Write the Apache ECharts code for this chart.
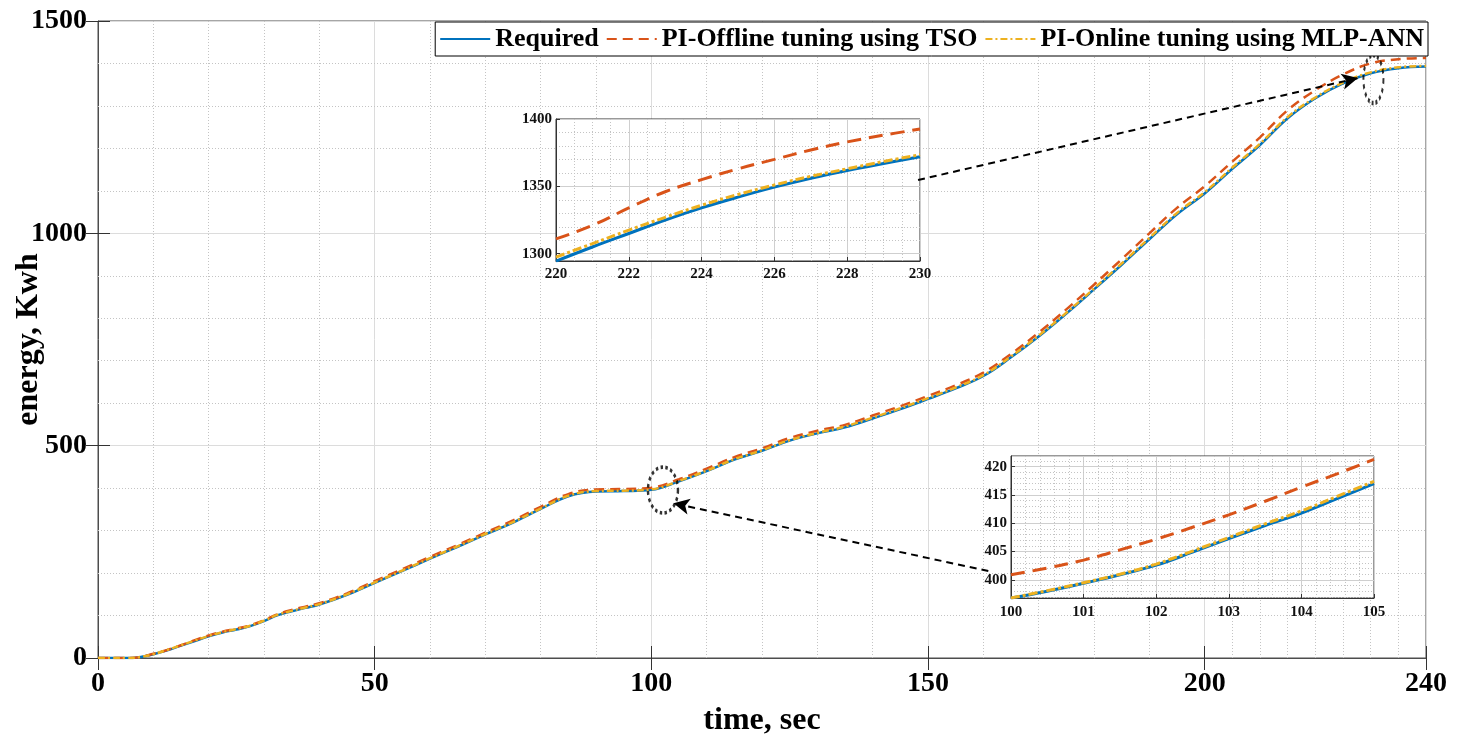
<!DOCTYPE html>
<html>
<head>
<meta charset="utf-8">
<script src="https://cdn.jsdelivr.net/npm/echarts@6/dist/echarts.min.js"></script>
<style>
html,body{margin:0;padding:0;background:#fff;}
#chart{width:1468px;height:736px;}
</style>
</head>
<body>
<div id="chart"></div>
<script>
// ---------- main plot data ----------
const time = [0,2.5,5,7.5,10,12.5,15,17.5,20,22.5,25,27.5,30,32.5,35,37.5,40,45,50,55,60,65,70,75,80,85,90,95,100,105,110,115,120,125,130,135,140,145,150,155,160,165,170,175,180,185,190,195,200,205,210,215,220,225,230,235,240];
const required = [0,0,0,2,9,18,29,40,51,60,67,75,87,101,110,118,126,149,177,205,234,262,291,319,351,381,392,393,396,416,440,467,488,512,529,543,564,586,610,635,664,708,757,811,868,926,986,1045,1094,1152,1208,1271,1318,1353,1377,1389,1393];
const tsoOffline = [0,0,0,2,10,19,30,42,53,62,69,77,89,103,113,121,129,152,181,209,238,266,295,324,356,386,397,398,401,421,446,473,494,518,535,549,571,593,617,642,672,716,766,821,879,939,1000,1060,1111,1169,1226,1290,1337,1374,1400,1410,1413];
const mlpOnline = [0,0,0,2,9,19,30,41,52,61,68,76,88,102,111,119,127,150,178,206,235,263,292,320,352,382,393,394,397,417,441,468,489,513,530,545,566,588,612,637,666,710,759,813,870,929,989,1048,1097,1155,1211,1274,1320,1355,1379,1391,1394];

// ---------- zoom inset 1 (220-230 s) ----------
const timeZoom1 = [220,221,222,223,224,225,226,227,228,229,230];
const requiredZoom1 = [1294.5,1305,1315,1325,1334,1342,1349.4,1356,1361.8,1367,1372];
const tsoZoom1 = [1311,1321,1334,1346,1355,1363,1370,1377,1383,1388,1392.5];
const mlpZoom1 = [1297.5,1307.5,1317.5,1327,1336,1344,1351,1357.5,1363,1368.5,1373.5];

// ---------- zoom inset 2 (100-105 s) ----------
const timeZoom2 = [100,100.5,101,101.5,102,102.5,103,103.5,104,104.5,105];
const requiredZoom2 = [396.8,398,399.4,400.9,402.6,404.9,407.3,409.6,411.8,414.4,417];
const tsoZoom2 = [400.9,402.1,403.5,405.3,407.2,409.3,411.5,413.9,416.4,418.8,421.3];
const mlpZoom2 = [396.8,398.1,399.5,401.0,402.8,405.1,407.5,409.9,412.2,414.8,417.4];

// ---------- minor grid tick positions ----------
const mainMinorX = [10,20,30,40,60,70,80,90,110,120,130,140,160,170,180,190,205,210,215,220,225,230,235];
const mainMinorY = [100,200,300,400,600,700,800,900,1100,1200,1300,1400];
const zoom1MinorX = [220.5,221,221.5,222.5,223,223.5,224.5,225,225.5,226.5,227,227.5,228.5,229,229.5];
const zoom1MinorY = [1310,1320,1330,1340,1360,1370,1380,1390];
const zoom2MinorX = [100.2,100.4,100.6,100.8,101.2,101.4,101.6,101.8,102.2,102.4,102.6,102.8,103.2,103.4,103.6,103.8,104.2,104.4,104.6,104.8];
const zoom2MinorY = [397,398,399,401,402,403,404,406,407,408,409,411,412,413,414,416,417,418,419,421];

// ---------- annotations (data coordinates of main axes) ----------
const ellipseLow = [102.1, 395.5];
const ellipseHigh = [230.5, 1363];
const arrowLow = [[160.9, 204.9], [104.0, 364.3]];
const arrowHigh = [[148.2, 1125.5], [227.7, 1365.7]];

const seriesNames = ['Required', 'PI-Offline tuning using TSO', 'PI-Online tuning using MLP-ANN'];
const colors = ['#0072BD', '#D95319', '#EDB120'];
const FONT = "'Liberation Serif', 'Times New Roman', serif";

const pair = (xs, ys) => xs.map((x, i) => [x, ys[i]]);
const plain = v => String(v);

function curve(name, xi, data, color, type, width, z) {
  return {
    name, type: 'line', xAxisIndex: xi, yAxisIndex: xi, data,
    showSymbol: false, symbol: 'none', smooth: 0.4,
    lineStyle: { color, type, width }, itemStyle: { color },
    z, silent: true, animation: false
  };
}

function minorGrid(xi, xs, ys, z) {
  return {
    type: 'line', xAxisIndex: xi, yAxisIndex: xi, data: [], silent: true, z,
    animation: false,
    markLine: {
      silent: true, z, symbol: ['none', 'none'], label: { show: false },
      animation: false,
      lineStyle: { color: '#c4c4c4', type: [1, 2], width: 1 },
      emphasis: { disabled: true },
      data: xs.map(v => ({ xAxis: v })).concat(ys.map(v => ({ yAxis: v })))
    }
  };
}

const mainLabel = { fontFamily: FONT, fontWeight: 'bold', fontSize: 28, color: '#000', formatter: plain };
const insetLabel = { fontFamily: FONT, fontWeight: 'bold', fontSize: 15, color: '#111', formatter: plain };
const axisLineStyle = { color: '#4d4d4d', width: 1 };

const option = {
  animation: false,
  backgroundColor: '#fff',
  textStyle: { fontFamily: FONT },
  legend: {
    data: seriesNames,
    right: 40, top: 22,
    backgroundColor: '#fff', borderColor: '#000', borderWidth: 1,
    padding: [4, 4], itemGap: 7, itemWidth: 50, itemHeight: 1,
    itemStyle: { opacity: 0, borderWidth: 0 },
    textStyle: { fontFamily: FONT, fontWeight: 'bold', fontSize: 26, color: '#000', padding: [0, 0, 0, 0] },
    z: 8
  },
  grid: [
    { left: 98, right: 42, top: 21, bottom: 78, show: true, borderColor: '#4d4d4d', borderWidth: 1,
      backgroundColor: '#fff', containLabel: false, outerBoundsMode: 'none' },
    { left: 556, top: 119, width: 364, height: 142, show: true, borderColor: '#333', borderWidth: 1,
      backgroundColor: '#fff', z: 3, containLabel: false, outerBoundsMode: 'none' },
    { left: 1011, top: 456, width: 363, height: 142, show: true, borderColor: '#333', borderWidth: 1,
      backgroundColor: '#fff', z: 3, containLabel: false, outerBoundsMode: 'none' }
  ],
  xAxis: [
    { type: 'value', gridIndex: 0, min: 0, max: 240, interval: 50, position: 'bottom',
      axisLine: { show: true, lineStyle: axisLineStyle },
      axisTick: { show: true, inside: true, length: 12, lineStyle: { color: '#333' } },
      axisLabel: Object.assign({ margin: 12 }, mainLabel),
      splitLine: { show: true, lineStyle: { color: '#dcdcdc', width: 1 } },
      name: 'time, sec', nameLocation: 'middle', nameGap: 47,
      nameTextStyle: { fontFamily: FONT, fontWeight: 'bold', fontSize: 32, color: '#000' } },
    { type: 'value', gridIndex: 1, min: 220, max: 230, interval: 2, z: 4,
      axisLine: { show: true, lineStyle: { color: '#333' } },
      axisTick: { show: true, inside: true, length: 4, lineStyle: { color: '#333' } },
      axisLabel: Object.assign({ margin: 6 }, insetLabel),
      splitLine: { show: true, lineStyle: { color: '#cfcfcf', width: 1 } } },
    { type: 'value', gridIndex: 2, min: 100, max: 105, interval: 1, z: 4,
      axisLine: { show: true, lineStyle: { color: '#333' } },
      axisTick: { show: true, inside: true, length: 4, lineStyle: { color: '#333' } },
      axisLabel: Object.assign({ margin: 7 }, insetLabel),
      splitLine: { show: true, lineStyle: { color: '#cfcfcf', width: 1 } } },
    { type: 'value', gridIndex: 0, min: 0, max: 240, interval: 50, position: 'top',
      axisLine: { show: false }, axisLabel: { show: false }, splitLine: { show: false },
      axisTick: { show: true, inside: true, length: 12, lineStyle: { color: '#333' } } }
  ],
  yAxis: [
    { type: 'value', gridIndex: 0, min: 0, max: 1500, interval: 500, position: 'left',
      axisLine: { show: true, lineStyle: axisLineStyle },
      axisTick: { show: true, inside: true, length: 12, lineStyle: { color: '#333' } },
      axisLabel: Object.assign({ margin: 11 }, mainLabel),
      splitLine: { show: true, lineStyle: { color: '#dcdcdc', width: 1 } },
      name: 'energy, Kwh', nameLocation: 'middle', nameGap: 53, nameRotate: 90, nameMoveOverlap: false,
      nameTextStyle: { fontFamily: FONT, fontWeight: 'bold', fontSize: 32, color: '#000' } },
    { type: 'value', gridIndex: 1, min: 1294.6, max: 1400, splitNumber: 2, z: 4,
      axisLine: { show: true, lineStyle: { color: '#333' } },
      axisTick: { show: true, inside: true, length: 4, lineStyle: { color: '#333' } },
      axisLabel: Object.assign({ margin: 4, showMinLabel: false }, insetLabel),
      splitLine: { show: true, lineStyle: { color: '#cfcfcf', width: 1 } } },
    { type: 'value', gridIndex: 2, min: 396.8, max: 421.9, splitNumber: 5, z: 4,
      axisLine: { show: true, lineStyle: { color: '#333' } },
      axisTick: { show: true, inside: true, length: 4, lineStyle: { color: '#333' } },
      axisLabel: Object.assign({ margin: 4, showMinLabel: false, showMaxLabel: false }, insetLabel),
      splitLine: { show: true, lineStyle: { color: '#cfcfcf', width: 1 } } },
    { type: 'value', gridIndex: 0, min: 0, max: 1500, interval: 500, position: 'right',
      axisLine: { show: false }, axisLabel: { show: false }, splitLine: { show: false },
      axisTick: { show: true, inside: true, length: 12, lineStyle: { color: '#333' } } }
  ],
  series: [
    minorGrid(0, mainMinorX, mainMinorY, 1),
    minorGrid(1, zoom1MinorX, zoom1MinorY, 4),
    minorGrid(2, zoom2MinorX, zoom2MinorY, 4),

    curve(seriesNames[0], 0, pair(time, required), colors[0], 'solid', 2.5, 2),
    curve(seriesNames[1], 0, pair(time, tsoOffline), colors[1], [10, 6], 2.5, 2),
    curve(seriesNames[2], 0, pair(time, mlpOnline), colors[2], [7, 3, 2, 3], 2.5, 2),

    curve(seriesNames[0], 1, pair(timeZoom1, requiredZoom1), colors[0], 'solid', 3, 5),
    curve(seriesNames[1], 1, pair(timeZoom1, tsoZoom1), colors[1], [14, 8], 3, 5),
    curve(seriesNames[2], 1, pair(timeZoom1, mlpZoom1), colors[2], [9, 3, 3, 3], 3, 5),

    curve(seriesNames[0], 2, pair(timeZoom2, requiredZoom2), colors[0], 'solid', 3, 5),
    curve(seriesNames[1], 2, pair(timeZoom2, tsoZoom2), colors[1], [14, 8], 3, 5),
    curve(seriesNames[2], 2, pair(timeZoom2, mlpZoom2), colors[2], [9, 3, 3, 3], 3, 5),

    { type: 'scatter', xAxisIndex: 0, yAxisIndex: 0, data: [ellipseLow], symbol: 'circle',
      symbolSize: [30, 46], silent: true, z: 7, animation: false,
      itemStyle: { color: 'rgba(0,0,0,0)', borderColor: '#000', borderWidth: 3, borderType: [3, 3] } },
    { type: 'scatter', xAxisIndex: 0, yAxisIndex: 0, data: [ellipseHigh], symbol: 'circle',
      symbolSize: [20, 48], silent: true, z: 7, animation: false,
      itemStyle: { color: 'rgba(0,0,0,0)', borderColor: '#000', borderWidth: 3, borderType: [3, 3] } },
    { type: 'line', xAxisIndex: 0, yAxisIndex: 0, data: [], silent: true, z: 7, animation: false,
      markLine: {
        silent: true, z: 7, animation: false, symbol: ['none', 'arrow'], symbolSize: [12, 16],
        label: { show: false }, emphasis: { disabled: true },
        lineStyle: { color: '#000', type: [7, 5], width: 2 },
        data: [
          [{ coord: arrowLow[0] }, { coord: arrowLow[1] }],
          [{ coord: arrowHigh[0] }, { coord: arrowHigh[1] }]
        ]
      } }
  ]
};

const chart = echarts.init(document.getElementById('chart'), null, { renderer: 'canvas' });
chart.setOption(option);
</script>
</body>
</html>
